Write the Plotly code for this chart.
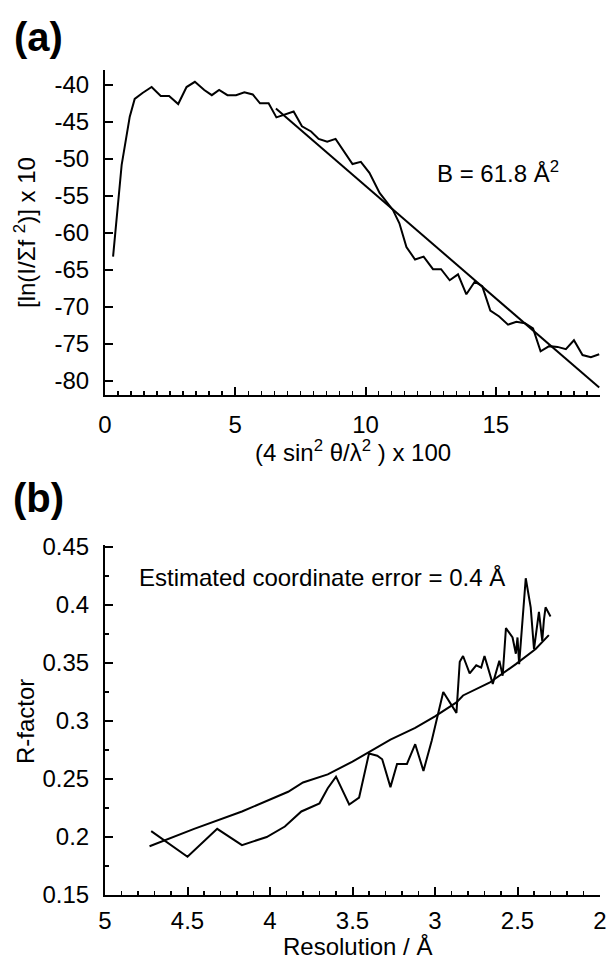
import plotly.graph_objects as go

W, H = 610, 967

# ---------- Panel (a) data ----------
a_x = [0.31, 0.64, 0.95, 1.14, 1.44, 1.79, 2.14, 2.46, 2.81, 3.13, 3.45, 3.81, 4.10, 4.38,
       4.70, 5.03, 5.35, 5.67, 5.95, 6.28, 6.58, 6.93, 7.24, 7.56, 7.91, 8.20, 8.53, 8.85,
       9.17, 9.50, 9.82, 10.15, 10.54, 11.05, 11.30, 11.57, 11.90, 12.23, 12.59, 12.90,
       13.23, 13.55, 13.87, 14.19, 14.48, 14.79, 15.13, 15.47, 15.79, 16.12, 16.43, 16.72,
       17.05, 17.37, 17.69, 18.00, 18.33, 18.65, 18.97]
a_y = [-63.2, -50.8, -44.3, -41.9, -41.1, -40.3, -41.5, -41.5, -42.6, -40.3, -39.6, -40.7,
       -41.4, -40.7, -41.4, -41.4, -41.0, -41.3, -42.5, -42.5, -44.4, -44.0, -43.6, -45.6,
       -46.3, -47.3, -47.7, -47.3, -49.0, -50.7, -50.4, -51.9, -54.6, -56.9, -58.7, -61.9,
       -63.6, -63.2, -64.9, -64.9, -66.4, -65.6, -68.3, -66.6, -67.2, -70.5, -71.3, -72.4,
       -72.0, -72.2, -72.9, -76.0, -75.3, -75.4, -75.7, -74.5, -76.5, -76.8, -76.4]
a_fit_x = [6.56, 18.97]
a_fit_y = [-43.2, -80.9]
a_ytickvals = [-40, -45, -50, -55, -60, -65, -70, -75, -80]
a_yticktext = ["-40", "-45", "-50", "-55", "-60", "-65", "-70", "-75", "-80"]
a_xtickvals = [0, 5, 10, 15]
a_xticktext = ["0", "5", "10", "15"]

# ---------- Panel (b) data ----------
b_res = [4.72, 4.50, 4.32, 4.17, 4.02, 3.91, 3.81, 3.70, 3.65, 3.60, 3.52, 3.46, 3.40, 3.35,
         3.32, 3.27, 3.23, 3.17, 3.12, 3.07, 3.02, 2.95, 2.87, 2.85, 2.83, 2.79, 2.75, 2.72,
         2.70, 2.65, 2.61, 2.59, 2.57, 2.53, 2.51, 2.50, 2.49, 2.45, 2.42, 2.40, 2.37, 2.35,
         2.34, 2.33, 2.30]
b_r = [0.205, 0.183, 0.207, 0.193, 0.200, 0.209, 0.222, 0.229, 0.242, 0.252, 0.228, 0.234,
       0.272, 0.270, 0.267, 0.243, 0.263, 0.263, 0.280, 0.257, 0.283, 0.325, 0.307, 0.351,
       0.356, 0.341, 0.348, 0.346, 0.356, 0.332, 0.352, 0.339, 0.380, 0.372, 0.358, 0.372,
       0.349, 0.423, 0.398, 0.362, 0.394, 0.369, 0.387, 0.398, 0.390]
b_fit_res = [4.73, 4.46, 4.17, 4.01, 3.89, 3.80, 3.71, 3.65, 3.50, 3.35, 3.27, 3.12, 3.00,
             2.87, 2.83, 2.67, 2.51, 2.39, 2.31]
b_fit_r = [0.192, 0.207, 0.222, 0.232, 0.239, 0.247, 0.251, 0.254, 0.265, 0.277, 0.284,
           0.294, 0.304, 0.316, 0.322, 0.333, 0.349, 0.362, 0.374]
b_ytickvals = [0.15, 0.2, 0.25, 0.3, 0.35, 0.4, 0.45]
b_yticktext = ["0.15", "0.2", "0.25", "0.3", "0.35", "0.4", "0.45"]
b_xtickvals = [5, 4.5, 4, 3.5, 3, 2.5, 2]
b_xticktext = ["5", "4.5", "4", "3.5", "3", "2.5", "2"]


def px(x):
    return x / W


def py(y):
    return 1 - y / H


FONT = "Liberation Sans, Arial, Helvetica, sans-serif"
FS = 24
TICKFONT = dict(family=FONT, size=FS, color="black")

fig = go.Figure()
line = dict(color="black", width=2)
fig.add_trace(go.Scatter(x=a_x, y=a_y, mode="lines", line=line, xaxis="x", yaxis="y",
                         showlegend=False, hoverinfo="skip"))
fig.add_trace(go.Scatter(x=a_fit_x, y=a_fit_y, mode="lines", line=line, xaxis="x", yaxis="y",
                         showlegend=False, hoverinfo="skip"))
fig.add_trace(go.Scatter(x=b_res, y=b_r, mode="lines", line=line, xaxis="x2", yaxis="y2",
                         showlegend=False, hoverinfo="skip"))
fig.add_trace(go.Scatter(x=b_fit_res, y=b_fit_r, mode="lines", line=line, xaxis="x2",
                         yaxis="y2", showlegend=False, hoverinfo="skip"))

axis_common = dict(showgrid=False, zeroline=False, showline=True, linecolor="black",
                   linewidth=2, ticks="inside", tickcolor="black", tickwidth=2,
                   tickfont=TICKFONT, mirror=False, fixedrange=True, automargin=False,
                   ticklabeloverflow="allow")

fig.update_layout(
    width=W, height=H,
    margin=dict(l=0, r=0, t=0, b=0),
    paper_bgcolor="white", plot_bgcolor="white",
    xaxis=dict(domain=[px(105), px(600)], range=[0, 19], anchor="y",
               tickvals=a_xtickvals, ticktext=a_xticktext, ticklen=8, ticklabelstandoff=7,
               minor=dict(dtick=0.5, tick0=0, ticklen=4, ticks="inside",
                          tickcolor="black", tickwidth=1.5),
               **axis_common),
    yaxis=dict(domain=[py(395), py(70)], range=[-81.9, -38.0], anchor="x",
               tickvals=a_ytickvals, ticktext=a_yticktext, ticklen=8, ticklabelstandoff=9,
               **axis_common),
    xaxis2=dict(domain=[px(105), px(600)], range=[5, 2], anchor="y2",
                tickvals=b_xtickvals, ticktext=b_xticktext, ticklen=8, ticklabelstandoff=3,
                minor=dict(dtick=0.1, tick0=2, ticklen=4, ticks="inside",
                           tickcolor="black", tickwidth=1.5),
                **axis_common),
    yaxis2=dict(domain=[py(895), py(545)], range=[0.15, 0.4517], anchor="x2",
                tickvals=b_ytickvals, ticktext=b_yticktext, ticklen=8, ticklabelstandoff=9,
                minor=dict(dtick=0.025, tick0=0.15, ticklen=4, ticks="inside",
                           tickcolor="black", tickwidth=1.5),
                **axis_common),
)

ann = [
    dict(text="<b>(a)</b>", x=px(38), y=py(37), size=40),
    dict(text="<b>(b)</b>", x=px(38), y=py(498), size=40),
    dict(text="B = 61.8 Å<sup>2</sup>", x=px(498), y=py(172), size=FS),
    dict(text="(4 sin<sup>2</sup> θ/λ<sup>2</sup> ) x 100", x=px(353), y=py(451), size=FS),
    dict(text="Estimated coordinate error = 0.4 Å", x=px(322), y=py(577), size=FS),
    dict(text="Resolution / Å", x=px(357), y=py(946), size=FS),
]
annotations = []
for a in ann:
    annotations.append(dict(text=a["text"], x=a["x"], y=a["y"], xref="paper", yref="paper",
                            showarrow=False, xanchor="center", yanchor="middle",
                            font=dict(family=FONT, size=a["size"], color="black")))
annotations.append(dict(text="[ln(I/Σf <sup>2</sup>)] x 10", x=px(25), y=py(233),
                        xref="paper", yref="paper", showarrow=False, textangle=-90,
                        xanchor="center", yanchor="middle",
                        font=dict(family=FONT, size=FS, color="black")))
annotations.append(dict(text="R-factor", x=px(25), y=py(721),
                        xref="paper", yref="paper", showarrow=False, textangle=-90,
                        xanchor="center", yanchor="middle",
                        font=dict(family=FONT, size=FS, color="black")))
fig.update_layout(annotations=annotations)

fig.write_html("out.html",
               config={"displayModeBar": False, "staticPlot": True},
               post_script="document.body.style.margin='0px';"
                           "document.documentElement.style.overflow='hidden';")
